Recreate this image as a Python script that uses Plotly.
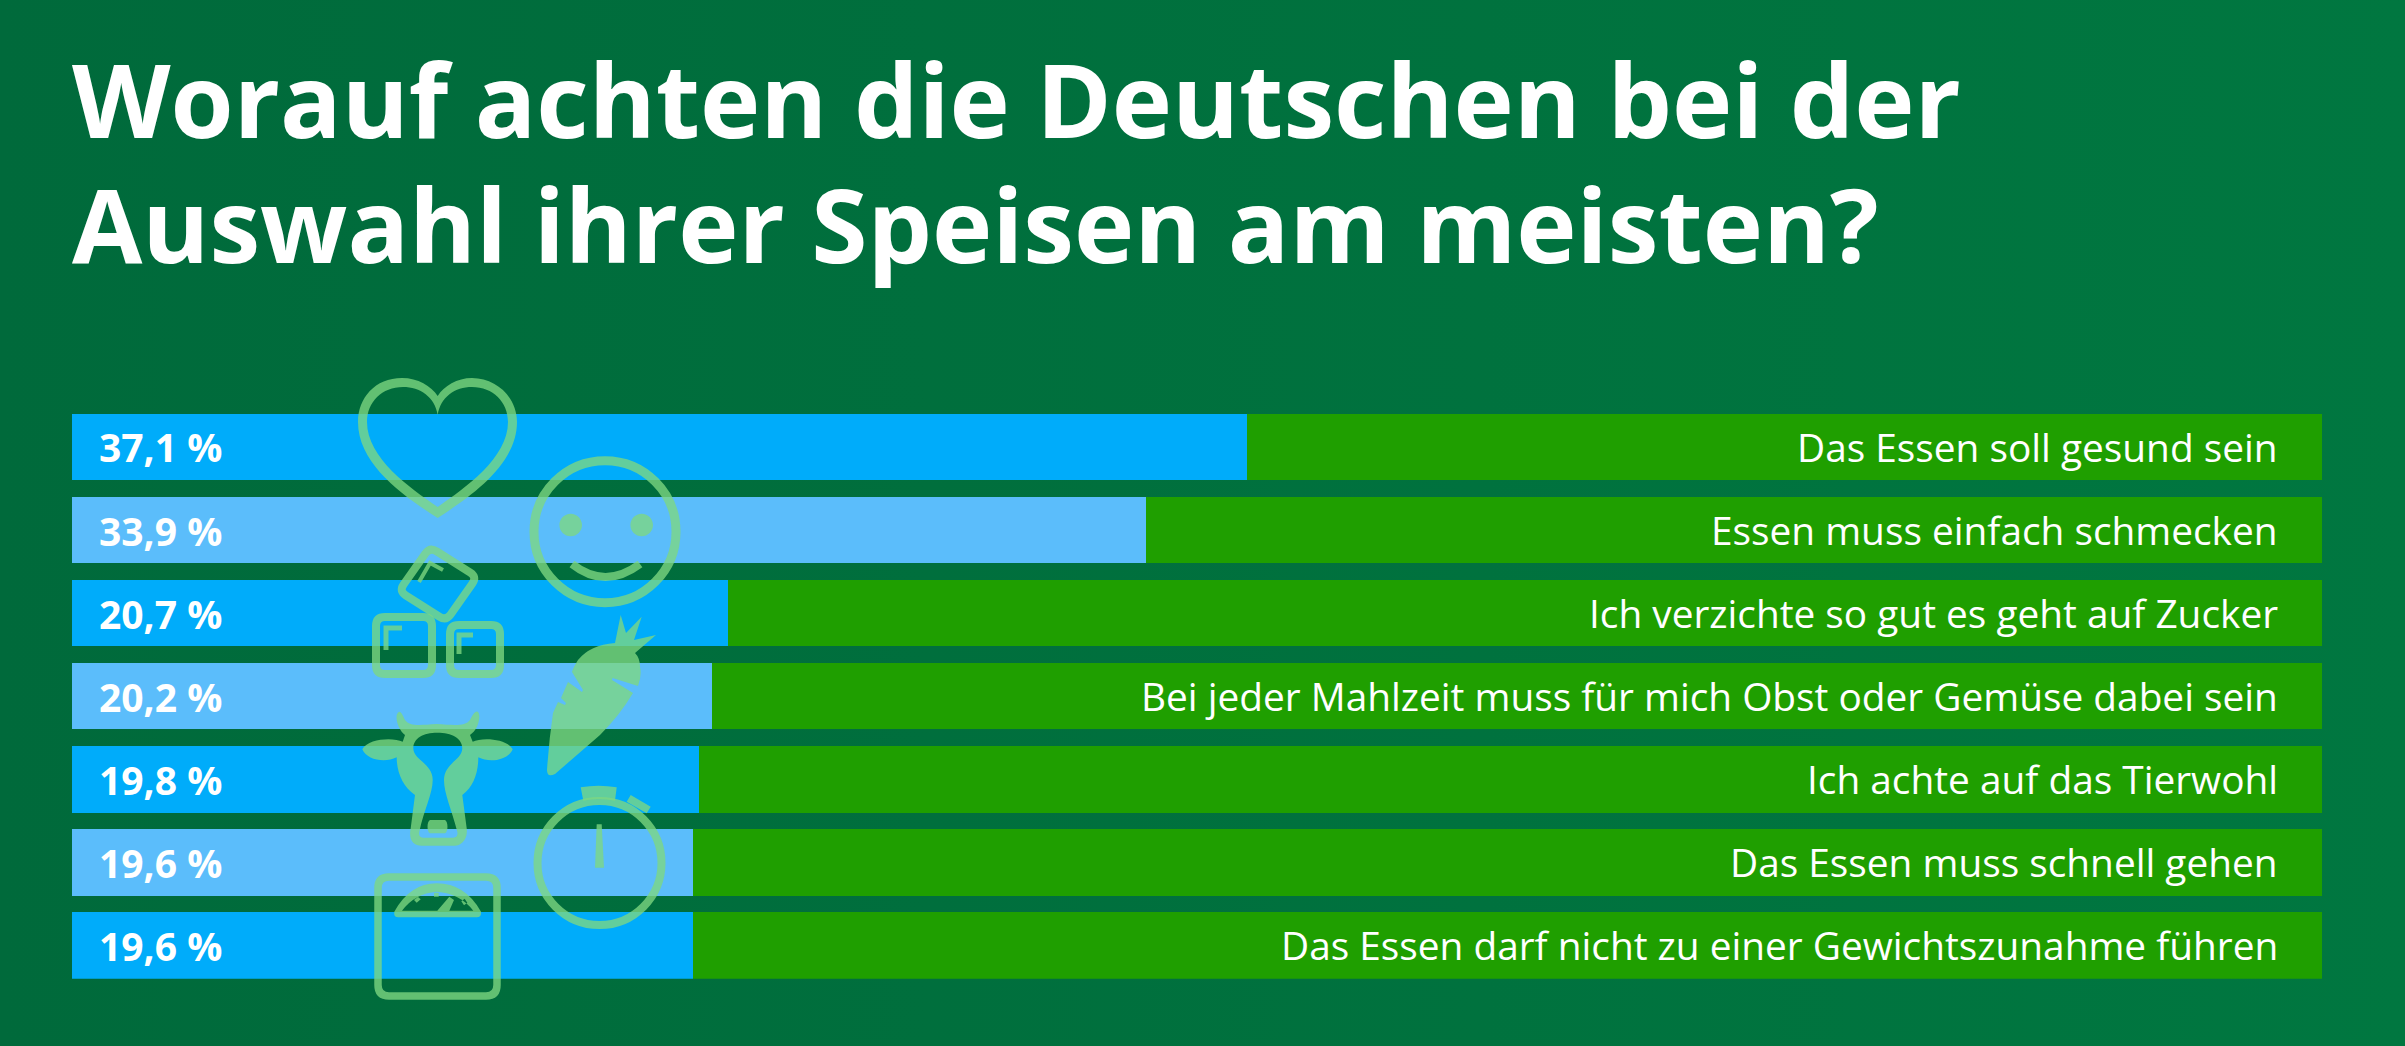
import re
import plotly.graph_objects as go

# --- DATA ---
LABELS = [
    "Das Essen soll gesund sein",
    "Essen muss einfach schmecken",
    "Ich verzichte so gut es geht auf Zucker",
    "Bei jeder Mahlzeit muss für mich Obst oder Gemüse dabei sein",
    "Ich achte auf das Tierwohl",
    "Das Essen muss schnell gehen",
    "Das Essen darf nicht zu einer Gewichtszunahme führen",
]
SHARES = [37.1, 33.9, 20.7, 20.2, 19.8, 19.6, 19.6]
SHARE_TEXT = ["37,1 %", "33,9 %", "20,7 %", "20,2 %", "19,8 %", "19,6 %", "19,6 %"]
BAR_TOTAL = 71.05  # the green part fills every row up to here
TITLE_LINES = ["Worauf achten die Deutschen bei der", "Auswahl ihrer Speisen am meisten?"]

# --- STYLE ---
W, H = 2405, 1046
BLUE_A, BLUE_B = "#00ACFA", "#5BBDFB"
GREEN = "#1F9F00"
ICON = "rgba(125,215,130,0.78)"
FONT = "Open Sans"


def traced(d, ox, oy):
    # icon outlines were traced on 3x crops, bring them back to page pixels
    parts = re.findall(r"[MLCQZ]|-?\d+\.?\d*", d)
    out, is_x = [], True
    for p in parts:
        if p.isalpha():
            out.append(p)
            is_x = True
        else:
            out.append(f"{float(p) / 3 + (ox if is_x else oy):.1f}")
            is_x = not is_x
    return " ".join(out)


def rounded(pts, r):
    # closed polygon with rounded corners
    d = ""
    n = len(pts)
    for i in range(n):
        (x0, y0), (x1, y1), (x2, y2) = pts[i - 1], pts[i], pts[(i + 1) % n]
        a = ((x0 - x1) ** 2 + (y0 - y1) ** 2) ** 0.5
        b = ((x2 - x1) ** 2 + (y2 - y1) ** 2) ** 0.5
        d += f"{'M' if i == 0 else 'L'} {x1 + (x0 - x1) * r / a:.1f} {y1 + (y0 - y1) * r / a:.1f} "
        d += f"Q {x1} {y1} {x1 + (x2 - x1) * r / b:.1f} {y1 + (y2 - y1) * r / b:.1f} "
    return d + "Z"


def circle(cx, cy, r):
    return (f"M {cx - r} {cy} C {cx - r} {cy - .552 * r} {cx - .552 * r} {cy - r} {cx} {cy - r} "
            f"C {cx + .552 * r} {cy - r} {cx + r} {cy - .552 * r} {cx + r} {cy} "
            f"C {cx + r} {cy + .552 * r} {cx + .552 * r} {cy + r} {cx} {cy + r} "
            f"C {cx - .552 * r} {cy + r} {cx - r} {cy + .552 * r} {cx - r} {cy} Z")


def filled(d):
    return dict(type="path", path=d, xref="x", yref="y", layer="above", fillcolor=ICON,
                fillrule="evenodd", line=dict(width=0))


def stroked(d, width):
    return dict(type="path", path=d, xref="x", yref="y", layer="above",
                fillcolor="rgba(0,0,0,0)", line=dict(color=ICON, width=width))


HEART = (
    "M 437.7 518 C 405 497 358 465 358 422 C 358 398 375 378 402 378 C 418 378 431 386 437.7 396 "
    "C 444 386 457 378 472 378 C 497 378 517 398 517 422 C 517 465 470 497 437.7 518 Z "
    "M 437.7 507 C 410 488 367 458 367 422 C 367 402 382 387 403 387 C 420 387 435 397 437.7 415 "
    "C 440.4 397 455 387 472 387 C 493 387 508 402 508 422 C 508 458 465 488 437.7 507 Z"
)
COW = traced(
    "M 297 95 C 305 95 310 110 315 120 C 330 140 360 135 410 132 C 460 135 495 140 510 120 "
    "C 518 105 525 92 533 95 C 545 105 535 150 510 165 L 518 185 C 545 172 620 175 638 208 "
    "C 625 240 570 250 535 232 C 535 280 520 320 487 345 L 500 445 C 505 480 480 497 465 497 "
    "L 365 497 C 340 497 325 480 332 445 L 345 345 C 310 320 290 280 290 232 "
    "C 255 250 200 240 187 208 C 205 175 280 172 308 185 L 315 165 C 295 150 280 105 297 95 Z "
    "M 412 158 C 455 158 487 175 487 205 C 487 240 432 250 432 300 C 432 340 455 390 472 455 "
    "C 475 468 468 473 460 473 L 370 473 C 362 473 355 468 358 455 C 372 390 398 340 398 300 "
    "C 398 250 340 240 340 205 C 340 175 370 158 412 158 Z "
    "M 390 420 L 435 420 C 445 425 445 455 435 460 L 390 460 C 380 455 380 425 390 420 Z",
    300, 680,
)
CARROT = (
    "M 547 770 Q 547 778 555 774 L 600 735 Q 620 715 633 693 L 612 680 L 612.5 678 L 638 686 "
    "Q 642 675 640 667 Q 640 658 635 653 L 656 635 L 634 640 L 641.7 616.7 L 626 633 L 620.7 615 "
    "L 615 643 Q 590 645 578 660 Q 573 668 572 672 L 583 690 L 582 692 L 568 682 L 561 698 "
    "L 566 703 L 565 705 L 558 702 L 553 713 Q 549 740 547 770 Z"
)
WATCH_PARTS = traced(
    "M 842 322 Q 895 312 950 322 L 945 362 Q 895 352 850 362 Z "
    "M 992 345 L 1052 380 L 1040 400 L 980 365 Z "
    "M 890 433 L 905 433 L 912 563 L 885 563 Z",
    300, 680,
)
DIAL = traced(
    "M 283 695 Q 330 610 410 610 Q 495 610 543 695 Q 545 712 530 712 L 295 712 Q 280 712 283 695 Z "
    "M 306 692 Q 345 640 410 635 Q 480 640 520 692 L 448 692 L 462 660 L 448 650 L 412 692 Z "
    "M 342 660 L 354 651 L 362 658 L 350 668 Z "
    "M 402 638 L 416 638 L 416 650 L 402 650 Z "
    "M 484 664 L 494 656 L 502 668 L 492 676 Z",
    300, 680,
)

icons = [
    filled(HEART),
    stroked(circle(605, 531.7, 71), 9),
    filled(circle(570.7, 525, 11.3) + " " + circle(641.7, 525, 11.3)),
    stroked("M 572 564 Q 605 590 640 564", 8),
    stroked(rounded([(430, 547), (477, 577), (446, 621), (399, 591)], 8), 8),
    stroked("M 419 582 L 430 563 L 443 570", 4),
    stroked(rounded([(376, 617), (432, 617), (432, 674), (376, 674)], 9), 8),
    stroked("M 386 650 L 386 628 L 402 628", 5),
    stroked(rounded([(450, 625), (500, 625), (500, 674), (450, 674)], 9), 8),
    stroked("M 459 654 L 459 635 L 473 635", 5),
    filled(CARROT),
    filled(COW),
    stroked(circle(599.5, 863, 62), 8),
    filled(WATCH_PARTS),
    stroked(rounded([(378, 877), (497, 877), (497, 996), (378, 996)], 11), 7.5),
    filled(DIAL),
]

fig = go.Figure()

# page background, its axes run in page pixels so the icons can sit on them
fig.add_trace(go.Scatter(
    x=[0, W, W, 0], y=[0, 0, H, H], mode="none", fill="toself", hoverinfo="skip",
    fillgradient=dict(type="horizontal", colorscale=[[0, "#006A3B"], [1, "#007740"]]),
    xaxis="x", yaxis="y", showlegend=False,
))

fig.add_trace(go.Bar(
    x=SHARES, y=LABELS, orientation="h", name="Anteil",
    marker=dict(color=[BLUE_A if i % 2 == 0 else BLUE_B for i in range(len(SHARES))], line_width=0),
    xaxis="x2", yaxis="y2", showlegend=False,
))
fig.add_trace(go.Bar(
    x=[BAR_TOTAL - s for s in SHARES], y=LABELS, orientation="h", name="Rest",
    marker=dict(color=GREEN, line_width=0),
    xaxis="x2", yaxis="y2", showlegend=False,
))

annotations = []
for label, share, text in zip(LABELS, SHARES, SHARE_TEXT):
    annotations.append(dict(
        x=0, y=label, xref="x2", yref="y2", text=text, showarrow=False, xanchor="left", xshift=25,
        font=dict(family=FONT, size=39, color="white", weight="bold"),
    ))
    annotations.append(dict(
        x=BAR_TOTAL, y=label, xref="x2", yref="y2", text=label, showarrow=False, xanchor="right", xshift=-42,
        font=dict(family=FONT, size=38.8, color="white"),
    ))

# line pitch follows the base size (96px -> 125px), the glyphs are set a bit larger
title_text = "<br>".join(f'<span style="font-size:102px">{line}</span>' for line in TITLE_LINES)

fig.update_layout(
    width=W, height=H,
    margin=dict(l=0, r=0, t=0, b=0, pad=0),
    paper_bgcolor="#006F3D",
    plot_bgcolor="rgba(0,0,0,0)",
    barmode="stack",
    bargap=0.2,
    showlegend=False,
    title=dict(
        text=title_text, x=72 / W, xref="paper", xanchor="left", y=1 - 138 / H, yref="paper", yanchor="top",
        font=dict(family=FONT, size=96, color="white", weight="bold"),
    ),
    shapes=icons,
    annotations=annotations,
    xaxis=dict(domain=[0, 1], range=[0, W], visible=False),
    yaxis=dict(domain=[0, 1], range=[H, 0], visible=False),
    xaxis2=dict(domain=[72 / W, 2322 / W], range=[0, BAR_TOTAL], visible=False, anchor="y2"),
    yaxis2=dict(domain=[1 - 978.7 / H, 1 - 413.7 / H], range=[6.4, -0.4], type="category",
                categoryorder="array", categoryarray=LABELS, visible=False, anchor="x2"),
)

# the browser's default body margin would push the page 8px off
fig.write_html("out.html", config={"displayModeBar": False},
               post_script="document.body.style.margin='0';")
